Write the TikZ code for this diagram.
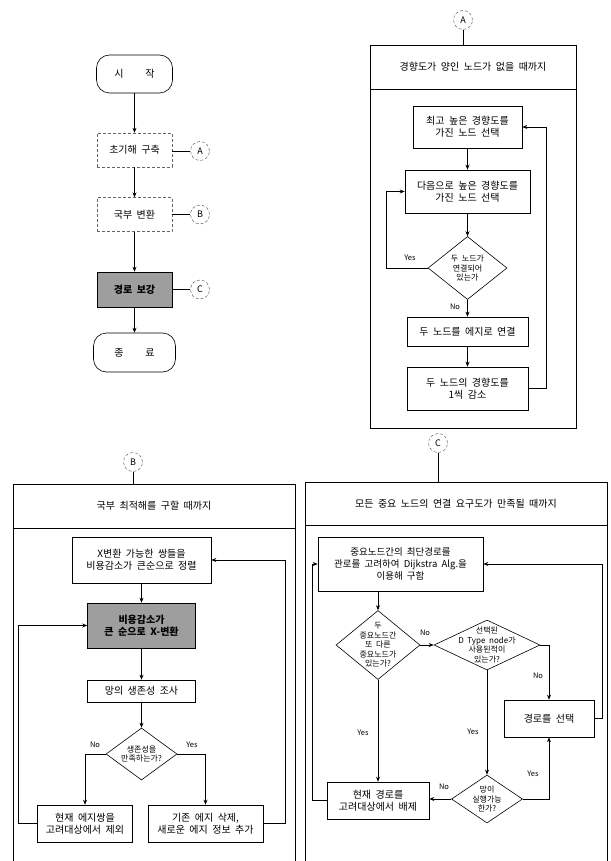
\documentclass[tikz,border=0pt]{standalone}
\usepackage{fontspec}
\setmainfont{Noto Sans CJK KR}[WordSpace=2]
\usetikzlibrary{arrows.meta,positioning,shapes.geometric,calc}

\begin{document}
\begin{tikzpicture}[x=1pt,y=-1pt,
  font=\fontsize{10}{12}\selectfont,
  box/.style={draw,line width=0.6pt,align=center,inner sep=2pt},
  term/.style={box,rounded corners=13pt,minimum width=76pt,minimum height=38pt},
  dbox/.style={draw=black!60,densely dashed,line width=0.4pt,align=center,minimum width=75pt,minimum height=34pt},
  shd/.style={box,fill=black!38,font=\fontsize{10}{12}\selectfont\bfseries},
  dec/.style={diamond,draw,line width=0.6pt,align=center,inner sep=-6pt,font=\fontsize{8}{9.5}\selectfont},
  conn/.style={circle,draw=black!70,densely dashed,line width=0.4pt,minimum size=19pt,inner sep=0pt,font=\fontsize{9}{10}\selectfont},
  head/.style={draw,line width=0.6pt,outer sep=0pt,minimum height=44pt},
  frame/.style={line width=0.6pt},
  ln/.style={line width=0.6pt},
  ar/.style={-{Stealth[length=5pt,width=4pt]},line width=0.6pt},
  lbl/.style={font=\fontsize{7.5}{8}\selectfont,inner sep=1pt}]
  \useasboundingbox (0,0) rectangle (610,861);
  % main flow
  \node[term] (st) at (134.5,74) {시\hspace{2.2em}작};
  \node[dbox] (s1) at (134.5,150) {초기해 구축};
  \node[dbox] (s2) at (134.5,214.5) {국부 변환};
  \node[shd,minimum width=75pt,minimum height=35pt] (s3) at (134.5,289.5) {경로 보강};
  \node[term,minimum width=82pt,minimum height=39pt] (en) at (134.5,352.5) {종\hspace{2.2em}료};
  \node[conn] (mA) at (200,151) {A};
  \node[conn] (mB) at (200,214.5) {B};
  \node[conn] (mC) at (200,289.5) {C};
  \draw[ar] (st)--(s1); \draw[ar] (s1)--(s2); \draw[ar] (s2)--(s3); \draw[ar] (s3)--(en);
  \draw[ln] (s1.east|-mA)--(mA); \draw[ln] (s2)--(mB); \draw[ln] (s3)--(mC);
  % panel A
  \node[conn] (pA) at (463,20) {A};
  \node[head,minimum width=206pt] (hA) at (473,67) {경향도가 양인 노드가 없을 때까지};
  \draw[ln] (pA)--(pA|-hA.north);
  \draw[frame] (hA.south west)--(hA.south west|-0,428)--(hA.south east|-0,428)--(hA.south east);
  \node[box,minimum width=109pt,minimum height=42pt] (a1) at (467.5,127) {최고 높은 경향도를\\가진 노드 선택};
  \node[box,minimum width=125pt,minimum height=43pt] (a2) at (467.5,191.5) {다음으로 높은 경향도를\\가진 노드 선택};
  \node[dec,minimum width=79pt,minimum height=63pt] (ad) at (467.5,268) {두 노드가\\연결되어\\있는가};
  \node[box,minimum width=121pt,minimum height=29pt] (a3) at (467.5,331.5) {두 노드를 에지로 연결};
  \node[box,minimum width=121pt,minimum height=43pt] (a4) at (467.5,388.5) {두 노드의 경향도를\\1씩 감소};
  \draw[ar] (a1)--(a2); \draw[ar] (a2)--(ad); \draw[ar] (ad)--(a3); \draw[ar] (a3)--(a4);
  \draw[ar] (ad.west)--++(-41,0)|-(a2.west);
  \draw[ar] (a4.east)--++(18,0)|-(a1.east);
  \node[lbl] (yA) at (410,258) {Yes};
  \node[lbl] (nA) at (455,307) {No};
  % panel B
  \node[conn] (pB) at (133,462) {B};
  \node[head,minimum width=282pt] (hB) at (154,506) {국부 최적해를 구할 때까지};
  \draw[ln] (pB)--(pB|-hB.north);
  \draw[frame] (hB.south west)--(hB.south west|-0,861);
  \draw[frame] (hB.south east)--(hB.south east|-0,861);
  \node[box,minimum width=139pt,minimum height=46pt] (b1) at (141.5,560) {X변환 가능한 쌍들을\\비용감소가 큰순으로 정렬};
  \node[shd,minimum width=108pt,minimum height=45pt] (b2) at (141.5,625.5) {비용감소가\\큰 순으로 X-변환};
  \node[box,minimum width=108pt,minimum height=22pt] (b3) at (141.5,691) {망의 생존성 조사};
  \node[dec,minimum width=71pt,minimum height=52pt] (bd) at (141.5,754) {생존성을\\만족하는가?};
  \node[box,minimum width=95pt,minimum height=37pt] (b4) at (85,823.5) {현재 에지쌍을\\고려대상에서 제외};
  \node[box,minimum width=115pt,minimum height=37pt] (b5) at (205.5,823.5) {기존 에지 삭제,\\새로운 에지 정보 추가};
  \draw[ar] (b1)--(b2); \draw[ar] (b2)--(b3); \draw[ar] (b3)--(bd);
  \draw[ar] (bd.west)-|(b4.north); \draw[ar] (bd.east)-|(b5.north);
  \draw[ar] (b4.west)--++(-19,0)|-(b2.west);
  \draw[ar] (b5.east)--++(22,0)|-(b1.east);
  \node[lbl] (nB) at (95,745) {No};
  \node[lbl] (yB) at (192,745) {Yes};
  % panel C
  \node[conn] (pC) at (438,443) {C};
  \node[head,minimum width=302pt,minimum height=43pt] (hC) at (456,503.5) {모든 중요 노드의 연결 요구도가 만족될 때까지};
  \draw[ln] (pC)--(pC|-hC.north);
  \draw[frame] (hC.south west)--(hC.south west|-0,861);
  \draw[frame] (hC.south east)--(hC.south east|-0,861);
  \node[box,minimum width=165pt,minimum height=54pt,font=\fontsize{9.5}{12}\selectfont] (c1) at (400.5,564) {중요노드간의 최단경로를\\관로를 고려하여 Dijkstra Alg.을\\이용해 구함};
  \node[dec,aspect=1.2,minimum width=84pt,minimum height=69pt] (cd1) at (378,645) {두\\중요노드간\\또 다른\\중요노드가\\있는가?};
  \node[dec,aspect=2,minimum width=106pt,minimum height=50pt] (cd2) at (487,645) {선택된\\D Type node가\\사용된적이\\있는가?};
  \node[box,minimum width=90pt,minimum height=37pt] (c2) at (549,718.5) {경로를 선택};
  \node[dec,aspect=1.5,minimum width=71pt,minimum height=48pt] (cd3) at (487,799) {망이\\실행가능\\한가?};
  \node[box,minimum width=102pt,minimum height=37pt] (c3) at (378,800.5) {현재 경로를\\고려대상에서 배제};
  \draw[ar] (cd1.north|-c1.south)--(cd1.north);
  \draw[ar] (cd1.east)--(cd2.west);
  \draw[ar] (cd2.east)-|(c2.north);
  \draw[ar] (cd2.south)--(cd3.north);
  \draw[ar] (cd3.east)-|(c2.south);
  \draw[ar] (cd3.west)--(cd3.west-|c3.east);
  \draw[ar] (cd1.south)--(c3.north);
  \draw[ar] (c2.east)--++(8,0)|-(c1.east);
  \draw[ar] (c3.west)--++(-14,0)|-(c1.west);
  \node[lbl] (nC1) at (425,633) {No};
  \node[lbl] (nC2) at (538,676) {No};
  \node[lbl] (yC1) at (363,733) {Yes};
  \node[lbl] (yC2) at (473,732) {Yes};
  \node[lbl] (yC3) at (533,774) {Yes};
  \node[lbl] (nC3) at (444,787) {No};
\end{tikzpicture}
\end{document}
